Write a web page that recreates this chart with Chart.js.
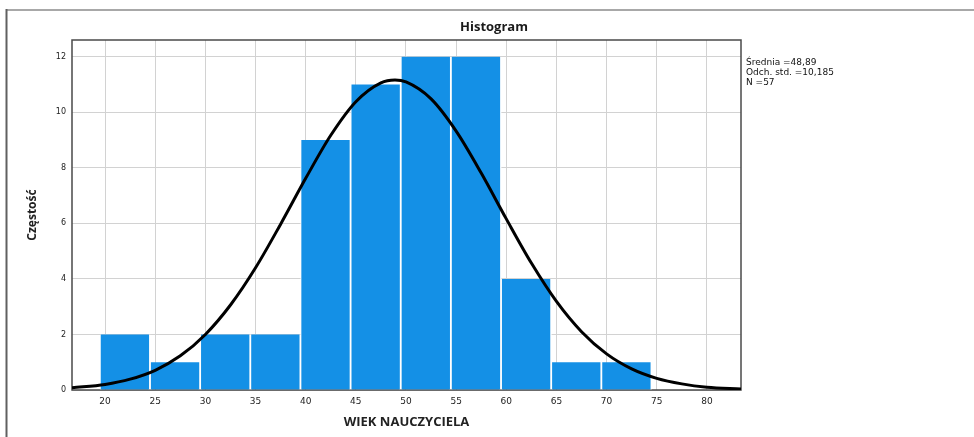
<!DOCTYPE html>
<html>
<head>
<meta charset="utf-8">
<script src="https://cdn.jsdelivr.net/npm/chart.js@4.4.0/dist/chart.umd.min.js"></script>
<style>
  html, body { margin: 0; padding: 0; background: #fff; }
  #wrap { width: 974px; height: 437px; }
</style>
</head>
<body>
<div id="wrap"><canvas id="histChart" width="974" height="437"></canvas></div>
<script>
// data
const binCenters = [22, 27, 32, 37, 42, 47, 52, 57, 62, 67, 72];
const binCounts = [2, 1, 2, 2, 9, 11, 12, 12, 4, 1, 1];

// normal curve
const curveX = [16.7, 20, 22.5, 25, 27.5, 30, 32.5, 35, 37.5, 40, 42.5, 45, 47.5, 48.9,
                50, 52.5, 55, 57.5, 60, 62.5, 65, 67.5, 70, 72.5, 75, 77.5, 80, 83.4];
const curveY = [0.08, 0.2, 0.39, 0.71, 1.23, 2.0, 3.06, 4.4, 5.97, 7.62, 9.17, 10.38, 11.06, 11.16,
                11.09, 10.48, 9.32, 7.81, 6.16, 4.57, 3.19, 2.1, 1.3, 0.76, 0.42, 0.22, 0.1, 0.04];

const xTicks = [20, 25, 30, 35, 40, 45, 50, 55, 60, 65, 70, 75, 80];
const yTicks = [0, 2, 4, 6, 8, 10, 12];
const statLines = ['Średnia =48,89', 'Odch. std. =10,185', 'N =57'];

// extras drawn straight on the canvas
const extrasPlugin = {
    id: 'extras',
    beforeDraw(chart) {
        const ctx = chart.ctx;
        ctx.save();
        ctx.fillStyle = '#fff';
        ctx.fillRect(0, 0, chart.width, chart.height);
        // outer frame
        ctx.strokeStyle = '#a8a8a8';
        ctx.lineWidth = 2;
        ctx.beginPath();
        ctx.moveTo(6, 10);
        ctx.lineTo(chart.width, 10);
        ctx.stroke();
        ctx.strokeStyle = '#606060';
        ctx.beginPath();
        ctx.moveTo(6.5, 9);
        ctx.lineTo(6.5, chart.height);
        ctx.stroke();
        // title
        ctx.fillStyle = '#1a1a1a';
        ctx.font = 'bold 13px "Open Sans"';
        ctx.textAlign = 'center';
        ctx.textBaseline = 'middle';
        ctx.fillText('Histogram', 494, 27);
        // stats
        ctx.fillStyle = '#111';
        ctx.font = '9px "DejaVu Sans"';
        ctx.textAlign = 'left';
        ctx.textBaseline = 'alphabetic';
        statLines.forEach((t, i) => ctx.fillText(t, 746, 65 + i * 10));
        ctx.restore();
    },
    beforeDatasetsDraw(chart) {
        const a = chart.chartArea;
        const ctx = chart.ctx;
        ctx.save();
        ctx.strokeStyle = '#4a4a4a';
        ctx.lineWidth = 1.5;
        ctx.strokeRect(a.left, a.top, a.right - a.left, a.bottom - a.top);
        ctx.restore();
    }
};

const histData = {
    datasets: [{
        type: 'line',
        data: curveX.map((x, i) => ({x: x, y: curveY[i]})),
        borderColor: '#000',
        borderWidth: 3,
        pointRadius: 0,
        cubicInterpolationMode: 'monotone',
        fill: false
    }, {
        type: 'bar',
        data: binCenters.map((x, i) => ({x: x, y: binCounts[i]})),
        backgroundColor: '#1490e6',
        borderColor: '#fff',
        borderWidth: {top: 0, right: 1.5, bottom: 0, left: 1},
        borderSkipped: false,
        barPercentage: 1,
        categoryPercentage: 1
    }]
};

const histOptions = {
    responsive: false,
    animation: false,
    layout: { padding: { top: 40, right: 233, left: 0, bottom: 0 } },
    plugins: {
        legend: { display: false },
        tooltip: { enabled: false }
    },
    scales: {
        x: {
            type: 'linear',
            offset: false,
            min: 16.7,
            max: 83.4,
            afterBuildTicks: s => { s.ticks = xTicks.map(v => ({value: v})); },
            afterFit: s => { s.height = 47; },
            grid: { color: '#d2d2d2', lineWidth: 1, drawTicks: false, offset: false },
            border: { display: false },
            ticks: { color: '#222', font: { family: 'DejaVu Sans', size: 9 }, padding: 6, maxRotation: 0 },
            title: {
                display: true,
                text: 'WIEK NAUCZYCIELA',
                color: '#222',
                font: { family: 'Open Sans', size: 13, weight: 'bold' },
                padding: { top: 0, bottom: 7 }
            }
        },
        y: {
            min: 0,
            max: 12.6,
            afterBuildTicks: s => { s.ticks = yTicks.map(v => ({value: v})); },
            afterFit: s => { s.width = 72; },
            grid: { color: '#d2d2d2', lineWidth: 1, drawTicks: false },
            border: { display: false },
            ticks: { color: '#222', font: { family: 'DejaVu Sans', size: 8 }, padding: 6 },
            title: {
                display: true,
                text: 'Częstość',
                color: '#222',
                font: { family: 'Open Sans', size: 12, weight: 'bold' },
                padding: { top: 25, bottom: 0 }
            }
        }
    }
};

new Chart(document.getElementById('histChart'), {
    type: 'bar',
    data: histData,
    options: histOptions,
    plugins: [extrasPlugin]
});
</script>
</body>
</html>
